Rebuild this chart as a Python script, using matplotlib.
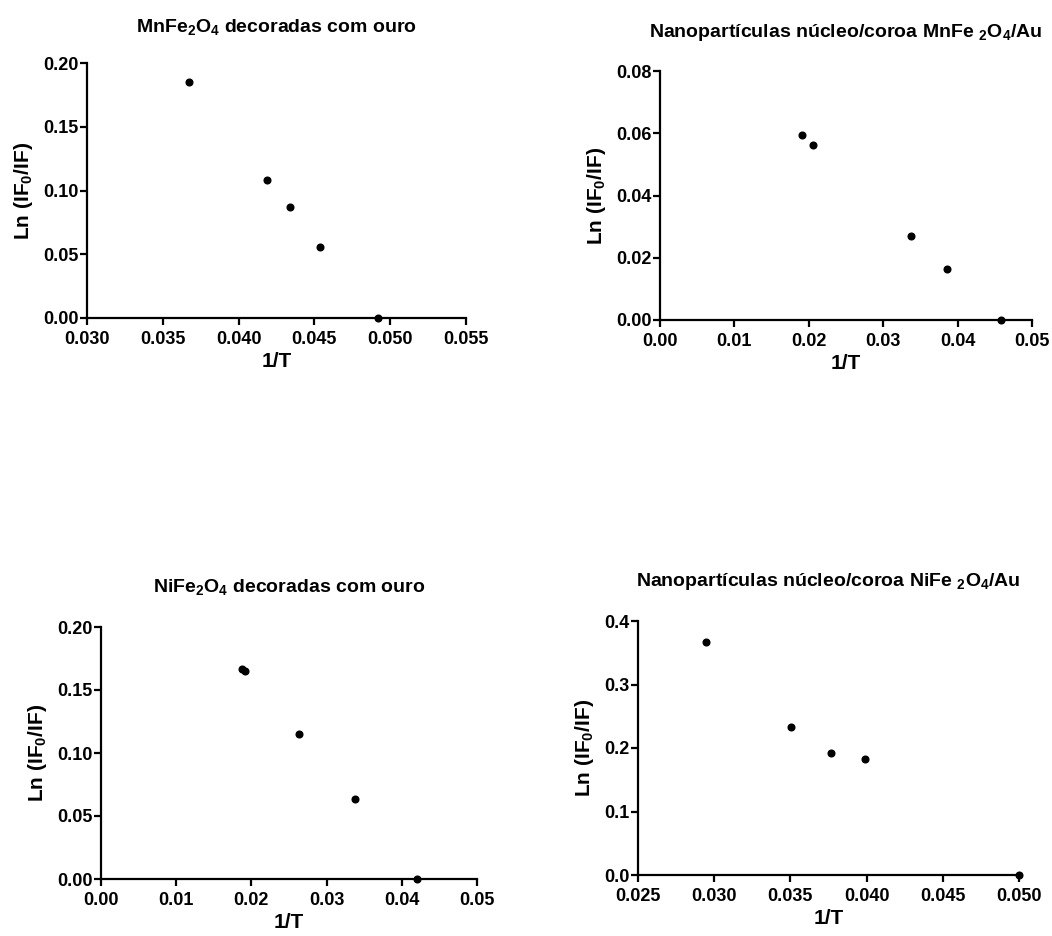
import matplotlib
matplotlib.use("Agg")
import matplotlib.pyplot as plt

plt.rcParams['font.family'] = ['Liberation Sans', 'DejaVu Sans']
plt.rcParams['font.weight'] = 'bold'
plt.rcParams['mathtext.fontset'] = 'custom'
plt.rcParams['mathtext.rm'] = 'Liberation Sans:bold'
plt.rcParams['mathtext.it'] = 'Liberation Sans:bold'
plt.rcParams['mathtext.bf'] = 'Liberation Sans:bold'
plt.rcParams['mathtext.default'] = 'rm'

# MnFe2O4 decorated with gold
mn_dec_x = [0.03676, 0.04186, 0.04336, 0.04540, 0.04917]
mn_dec_y = [0.1853, 0.1085, 0.0868, 0.0558, 0.0]

# MnFe2O4/Au core/shell
mn_cs_x = [0.01915, 0.02058, 0.03377, 0.03857, 0.04587]
mn_cs_y = [0.0593, 0.0561, 0.0269, 0.0163, 0.0]

# NiFe2O4 decorated with gold
ni_dec_x = [0.01881, 0.01912, 0.02635, 0.03381, 0.04206]
ni_dec_y = [0.1669, 0.1650, 0.1147, 0.0636, 0.0]

# NiFe2O4/Au core/shell
ni_cs_x = [0.02945, 0.03504, 0.03766, 0.03991, 0.05000]
ni_cs_y = [0.3664, 0.2328, 0.1919, 0.1830, 0.0]

titles = [
    r'MnFe$_{2}$O$_{4}$ decoradas com ouro',
    r'Nanopartículas núcleo/coroa MnFe $_{2}$O$_{4}$/Au',
    r'NiFe$_{2}$O$_{4}$ decoradas com ouro',
    r'Nanopartículas núcleo/coroa NiFe $_{2}$O$_{4}$/Au',
]
xticks = [
    [0.030, 0.035, 0.040, 0.045, 0.050, 0.055],
    [0.00, 0.01, 0.02, 0.03, 0.04, 0.05],
    [0.00, 0.01, 0.02, 0.03, 0.04, 0.05],
    [0.025, 0.030, 0.035, 0.040, 0.045, 0.050],
]
yticks = [
    [0.00, 0.05, 0.10, 0.15, 0.20],
    [0.00, 0.02, 0.04, 0.06, 0.08],
    [0.00, 0.05, 0.10, 0.15, 0.20],
    [0.0, 0.1, 0.2, 0.3, 0.4],
]
xfmt = ['{:.3f}', '{:.2f}', '{:.2f}', '{:.3f}']
yfmt = ['{:.2f}', '{:.2f}', '{:.2f}', '{:.1f}']
data = [(mn_dec_x, mn_dec_y), (mn_cs_x, mn_cs_y),
        (ni_dec_x, ni_dec_y), (ni_cs_x, ni_cs_y)]

W, H = 1052, 936
boxes_px = [
    (87, 466, 63, 318),
    (660, 1032, 71, 320),
    (101, 477, 627, 879),
    (638, 1019, 621, 875),
]
title_pads = [22, 24.5, 25, 25]

fig = plt.figure(figsize=(W / 100, H / 100), dpi=100)
for i, (l, r, t, b) in enumerate(boxes_px):
    ax = fig.add_axes([l / W, 1 - b / H, (r - l) / W, (b - t) / H])
    x, y = data[i]
    ax.plot(x, y, 'o', color='black', ms=4.8, clip_on=False, zorder=5)
    ax.set_xlim(xticks[i][0], xticks[i][-1])
    ax.set_ylim(yticks[i][0], yticks[i][-1])
    ax.set_xticks(xticks[i])
    ax.set_xticklabels([xfmt[i].format(v) for v in xticks[i]])
    ax.set_yticks(yticks[i])
    ax.set_yticklabels([yfmt[i].format(v) for v in yticks[i]])
    for s in ('top', 'right'):
        ax.spines[s].set_visible(False)
    for s in ('left', 'bottom'):
        ax.spines[s].set_linewidth(1.6)
    ax.tick_params(direction='out', length=5, width=1.6, labelsize=13)
    ax.tick_params(axis='x', pad=4.5)
    ax.tick_params(axis='y', pad=1)
    for lab in ax.get_xticklabels() + ax.get_yticklabels():
        lab.set_fontweight('bold')
    ax.set_xlabel('1/T', fontsize=15, fontweight='bold', labelpad=3)
    ax.set_ylabel(r'Ln (IF$_{0}$/IF)', fontsize=15, fontweight='bold', labelpad=6)
    ax.set_title(titles[i], fontsize=14, fontweight='bold', pad=title_pads[i])

fig.savefig('out.png', dpi=100)
